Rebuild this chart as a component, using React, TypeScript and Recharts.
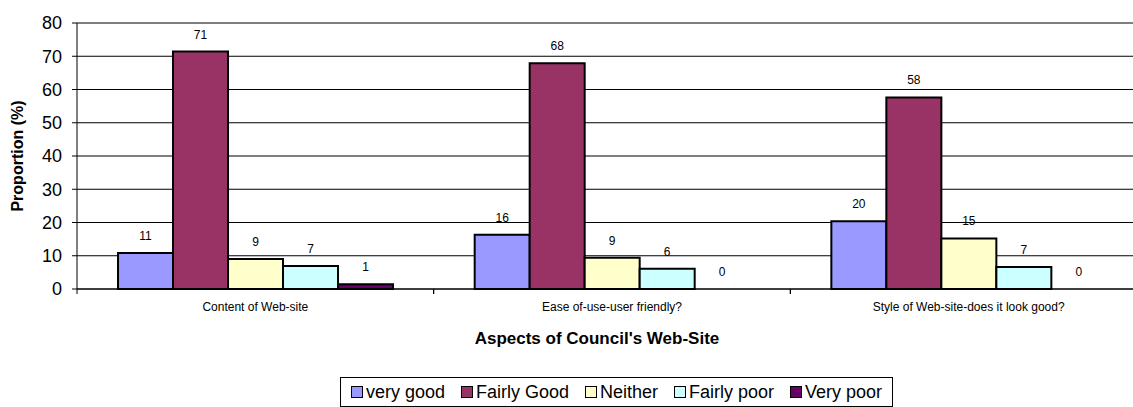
import React from 'react';
import { BarChart, Bar, XAxis, YAxis, CartesianGrid, Rectangle } from 'recharts';

const categories = ['Content of Web-site', 'Ease of-use-user friendly?', 'Style of Web-site-does it look good?'];
const veryGood = [10.8, 16.3, 20.4];
const fairlyGood = [71.4, 67.9, 57.6];
const neither = [9.0, 9.4, 15.2];
const fairlyPoor = [6.9, 6.1, 6.6];
const veryPoor = [1.4, 0, 0];
const yTicks = [0, 10, 20, 30, 40, 50, 60, 70, 80];

const seriesList = [
  { key: 'veryGood', name: 'very good', values: veryGood, color: '#9999FF' },
  { key: 'fairlyGood', name: 'Fairly Good', values: fairlyGood, color: '#993366' },
  { key: 'neither', name: 'Neither', values: neither, color: '#FFFFCC' },
  { key: 'fairlyPoor', name: 'Fairly poor', values: fairlyPoor, color: '#CCFFFF' },
  { key: 'veryPoor', name: 'Very poor', values: veryPoor, color: '#660066' },
];

const data = categories.map((cat, i) => {
  const row: Record<string, string | number> = { category: cat };
  seriesList.forEach((s) => { row[s.key] = s.values[i]; });
  return row;
});

const FONT = '"Liberation Sans", Arial, sans-serif';

const CategoryTick = (props: any) => {
  const { x, y, payload } = props;
  const half = payload && payload.offset ? payload.offset : 178.3;
  const axisY = y - 12;
  return (
    <g>
      <line x1={x - half} x2={x - half} y1={axisY} y2={axisY + 5} stroke="#000" />
      <line x1={x + half} x2={x + half} y1={axisY} y2={axisY + 5} stroke="#000" />
      <text x={x} y={y} dy={10} textAnchor="middle" fontSize={12} fill="#000" stroke="none" fontFamily={FONT}>
        {payload.value}
      </text>
    </g>
  );
};

// bar + its value label drawn together so zero-height bars still get a "0"
const makeShape = (key: string) => (props: any) => {
  const { x, y, width, height, payload } = props;
  const v = payload ? Number(payload[key]) : 0;
  return (
    <g>
      {height > 0 && <Rectangle {...props} />}
      <text x={x + width / 2} y={y - 13} textAnchor="middle" fontSize={12} fill="#000" stroke="none" fontFamily={FONT}>
        {Math.round(v)}
      </text>
    </g>
  );
};

const App: React.FC = () => {
  return (
    <div style={{ position: 'absolute', left: 0, top: 0, width: 1133, height: 407, overflow: 'hidden', background: '#fff' }}>
      <BarChart
        width={1160}
        height={407}
        data={data}
        margin={{ top: 23, right: 13, left: 17, bottom: 88 }}
        barCategoryGap="11.5%"
        barGap={0}
      >
        <CartesianGrid vertical={false} stroke="#000" />
        <XAxis
          dataKey="category"
          axisLine={{ stroke: '#000' }}
          tickLine={false}
          tickSize={0}
          tickMargin={12}
          height={30}
          interval={0}
          tick={<CategoryTick />}
          label={(p: any) => {
            const vb = p.viewBox || { x: 77, width: 1070, y: 289 };
            return (
              <text x={vb.x + vb.width / 2 - 15} y={344} textAnchor="middle" fontSize={17} fontWeight="bold" fontFamily={FONT} fill="#000">
                Aspects of Council's Web-Site
              </text>
            );
          }}
        />
        <YAxis
          width={60}
          domain={[0, 80]}
          ticks={yTicks}
          interval={0}
          axisLine={{ stroke: '#000' }}
          tickLine={{ stroke: '#000' }}
          tickSize={5}
          tickMargin={10}
          tick={{ fontSize: 18, fill: '#000', fontFamily: FONT }}
          label={(p: any) => {
            const vb = p.viewBox || { y: 23, height: 266 };
            const cy = vb.y + vb.height / 2;
            return (
              <text x={23} y={cy} transform={`rotate(-90 23 ${cy})`} textAnchor="middle" fontSize={16} fontWeight="bold" fontFamily={FONT} fill="#000">
                Proportion (%)
              </text>
            );
          }}
        />
        {seriesList.map((s) => (
          <Bar
            key={s.key}
            dataKey={s.key}
            name={s.name}
            fill={s.color}
            stroke="#000"
            strokeWidth={2}
            shape={makeShape(s.key)}
            isAnimationActive={false}
          />
        ))}
      </BarChart>
      <div
        style={{
          position: 'absolute',
          left: 340,
          top: 377,
          width: 553,
          height: 30,
          boxSizing: 'border-box',
          border: '1px solid #000',
          display: 'flex',
          alignItems: 'center',
          justifyContent: 'center',
          fontFamily: FONT,
          fontSize: 18,
          color: '#000',
          gap: 16,
        }}
      >
        {seriesList.map((s) => (
          <div key={s.key} style={{ display: 'flex', alignItems: 'center' }}>
            <span style={{ display: 'inline-block', width: 10, height: 10, border: '1px solid #000', background: s.color, marginRight: 3 }} />
            <span>{s.name}</span>
          </div>
        ))}
      </div>
    </div>
  );
};

export default App;
